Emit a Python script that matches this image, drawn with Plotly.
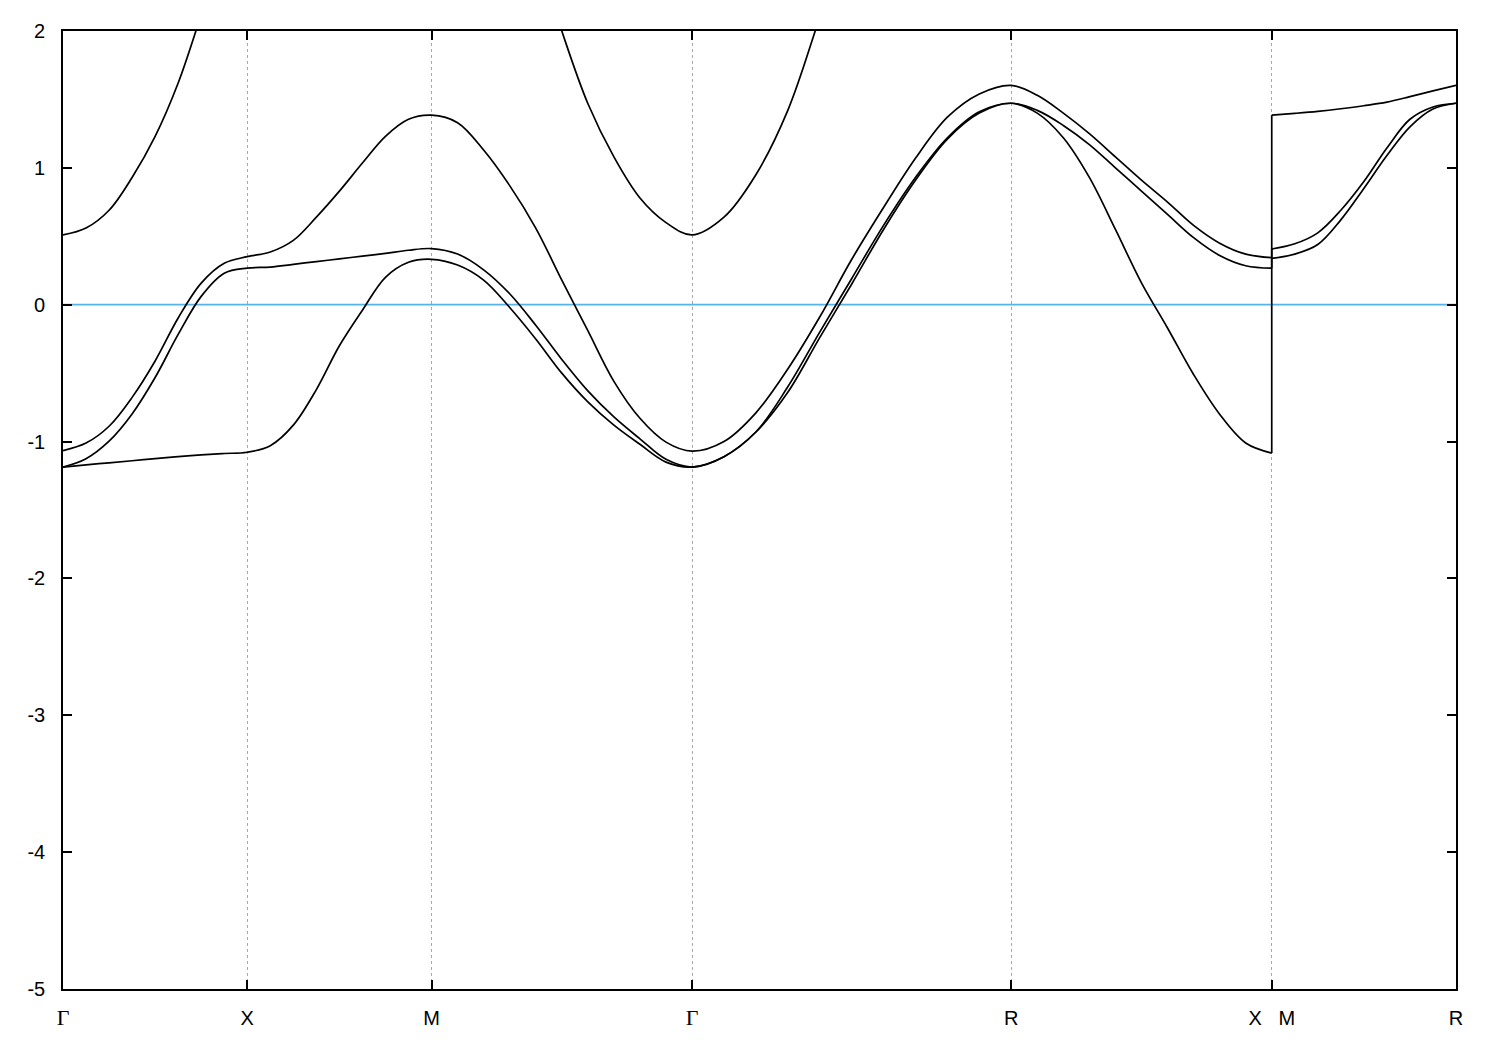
import plotly.graph_objects as go

# High-symmetry points along the k-path (Γ-X-M-Γ-R-X|M-R)
TICK_K = [0.0, 1.0, 2.0, 3.414, 5.146, 6.560, 7.560]
GAMMA = '<span style="font-family:\'Liberation Serif\', serif; font-size:22px">Γ</span>'
TICK_TEXT = [GAMMA, "X", "M", GAMMA, "R", "X\u00a0\u00a0\u00a0M", "R"]
Y_TICKS = [-5, -4, -3, -2, -1, 0, 1, 2]

# fractional sample positions inside each path segment
T9 = [0, 0.125, 0.25, 0.375, 0.5, 0.625, 0.75, 0.875, 1]
T11 = [0, 0.1, 0.2, 0.3, 0.4, 0.5, 0.6, 0.7, 0.8, 0.9, 1]

# path segments: name, start k, end k, samples
SEGMENTS = [
    ("GX", 0.0, 1.0, T9),
    ("XM", 1.0, 2.0, T9),
    ("MG", 2.0, 3.414, T11),
    ("GR", 3.414, 5.146, T11),
    ("RX", 5.146, 6.560, T11),
]
SEG_MR = ("MR", 6.560, 7.560, T9)

# band energies (eV) read per segment
band_a = {
    "GX": [-1.186, -1.17, -1.155, -1.14, -1.125, -1.11, -1.097, -1.087, -1.078],
    "XM": [-1.078, -1.03, -0.88, -0.62, -0.30, -0.04, 0.20, 0.31, 0.332],
    "MG": [0.332, 0.29, 0.18, -0.02, -0.25, -0.50, -0.71, -0.88, -1.02, -1.15, -1.186],
    "GR": [-1.186, -1.11, -0.93, -0.64, -0.24, 0.15, 0.55, 0.91, 1.21, 1.40, 1.472],
    "RX": [1.472, 1.40, 1.22, 0.93, 0.55, 0.16, -0.17, -0.51, -0.80, -1.01, -1.084],
    "MR": [1.385, 1.398, 1.413, 1.432, 1.454, 1.48, 1.52, 1.562, 1.603],
}
band_b = {
    "GX": [-1.186, -1.125, -0.997, -0.798, -0.532, -0.217, 0.061, 0.230, 0.267],
    "XM": [0.267, 0.275, 0.295, 0.315, 0.335, 0.355, 0.375, 0.398, 0.41],
    "MG": [0.41, 0.37, 0.255, 0.08, -0.15, -0.40, -0.63, -0.82, -0.98, -1.13, -1.186],
    "GR": [-1.186, -1.11, -0.93, -0.60, -0.20, 0.19, 0.58, 0.93, 1.22, 1.41, 1.472],
    "RX": [1.472, 1.42, 1.31, 1.17, 1.00, 0.83, 0.66, 0.49, 0.36, 0.285, 0.267],
    "MR": [0.339, 0.37, 0.44, 0.62, 0.85, 1.09, 1.30, 1.43, 1.472],
}
band_c = {
    "GX": [-1.066, -1.011, -0.888, -0.677, -0.411, -0.097, 0.158, 0.303, 0.351],
    "XM": [0.351, 0.385, 0.47, 0.64, 0.83, 1.035, 1.23, 1.355, 1.385],
    "MG": [1.385, 1.33, 1.13, 0.87, 0.56, 0.18, -0.19, -0.56, -0.83, -1.004, -1.07],
    "GR": [-1.07, -1.00, -0.79, -0.47, -0.09, 0.33, 0.71, 1.07, 1.37, 1.54, 1.603],
    "RX": [1.603, 1.53, 1.40, 1.25, 1.08, 0.91, 0.75, 0.58, 0.45, 0.37, 0.344],
    "MR": [0.407, 0.445, 0.525, 0.69, 0.90, 1.145, 1.355, 1.445, 1.472],
}
band_d = {
    "GX": [0.51, 0.56, 0.69, 0.93, 1.23, 1.62, 2.12, 2.65, 3.1],
    "XM": [3.1, 3.3, 3.5, 3.6, 3.7, 3.7, 3.7, 3.65, 3.6],
    "MG": [3.6, 3.5, 3.3, 3.0, 2.6, 2.0, 1.47, 1.08, 0.78, 0.60, 0.51],
    "GR": [0.51, 0.64, 0.95, 1.42, 2.1, 2.8, 3.4, 3.9, 4.2, 4.4, 4.5],
    "RX": [4.5, 4.4, 4.2, 4.0, 3.8, 3.6, 3.4, 3.3, 3.2, 3.15, 3.1],
    "MR": [3.6, 3.7, 3.8, 3.9, 4.0, 4.1, 4.2, 4.35, 4.5],
}
BANDS = [band_a, band_b, band_c, band_d]


def path_points(band):
    ks, es = [], []
    for name, k0, k1, ts in SEGMENTS:
        for i, (t, e) in enumerate(zip(ts, band[name])):
            if ks and i == 0:
                continue
            ks.append(k0 + t * (k1 - k0))
            es.append(e)
    return ks, es


def mr_points(band):
    name, k0, k1, ts = SEG_MR
    return [k0 + t * (k1 - k0) for t in ts], list(band[name])


LINE = dict(color="black", width=1.7, shape="spline", smoothing=1.0)

fig = go.Figure()
# Fermi level
fig.add_trace(go.Scatter(x=[TICK_K[0], TICK_K[-1]], y=[0, 0], mode="lines",
                         line=dict(color="#56b4e9", width=1.7), hoverinfo="skip"))
for band in BANDS:
    k1, e1 = path_points(band)
    k2, e2 = mr_points(band)
    fig.add_trace(go.Scatter(x=k1, y=e1, mode="lines", line=LINE, hoverinfo="skip"))
    # jump from X to M (path discontinuity)
    fig.add_trace(go.Scatter(x=[k1[-1], k2[0]], y=[e1[-1], e2[0]], mode="lines",
                             line=dict(color="black", width=1.7), hoverinfo="skip"))
    fig.add_trace(go.Scatter(x=k2, y=e2, mode="lines", line=LINE, hoverinfo="skip"))

axis_common = dict(
    ticks="inside", ticklen=9, tickwidth=1.6, tickcolor="black",
    showline=True, linecolor="black", linewidth=1.6, mirror="ticks",
    zeroline=False,
    tickfont=dict(family="Liberation Sans, Arial, sans-serif", size=20, color="black"),
)

fig.update_layout(
    width=1484, height=1034,
    margin=dict(l=55, r=36, t=20, b=50),
    paper_bgcolor="white", plot_bgcolor="white",
    showlegend=False, hovermode=False,
    xaxis=dict(range=[TICK_K[0], TICK_K[-1]], tickmode="array", tickvals=TICK_K,
               ticktext=TICK_TEXT, showgrid=True, gridcolor="#a8a8a8",
               griddash="dot", gridwidth=1, ticklabelstandoff=10, **axis_common),
    yaxis=dict(range=[-5, 2], tickmode="array", tickvals=Y_TICKS,
               ticktext=[str(v) for v in Y_TICKS], showgrid=False,
               ticklabelstandoff=12, **axis_common),
)

fig.write_html("out.html")
